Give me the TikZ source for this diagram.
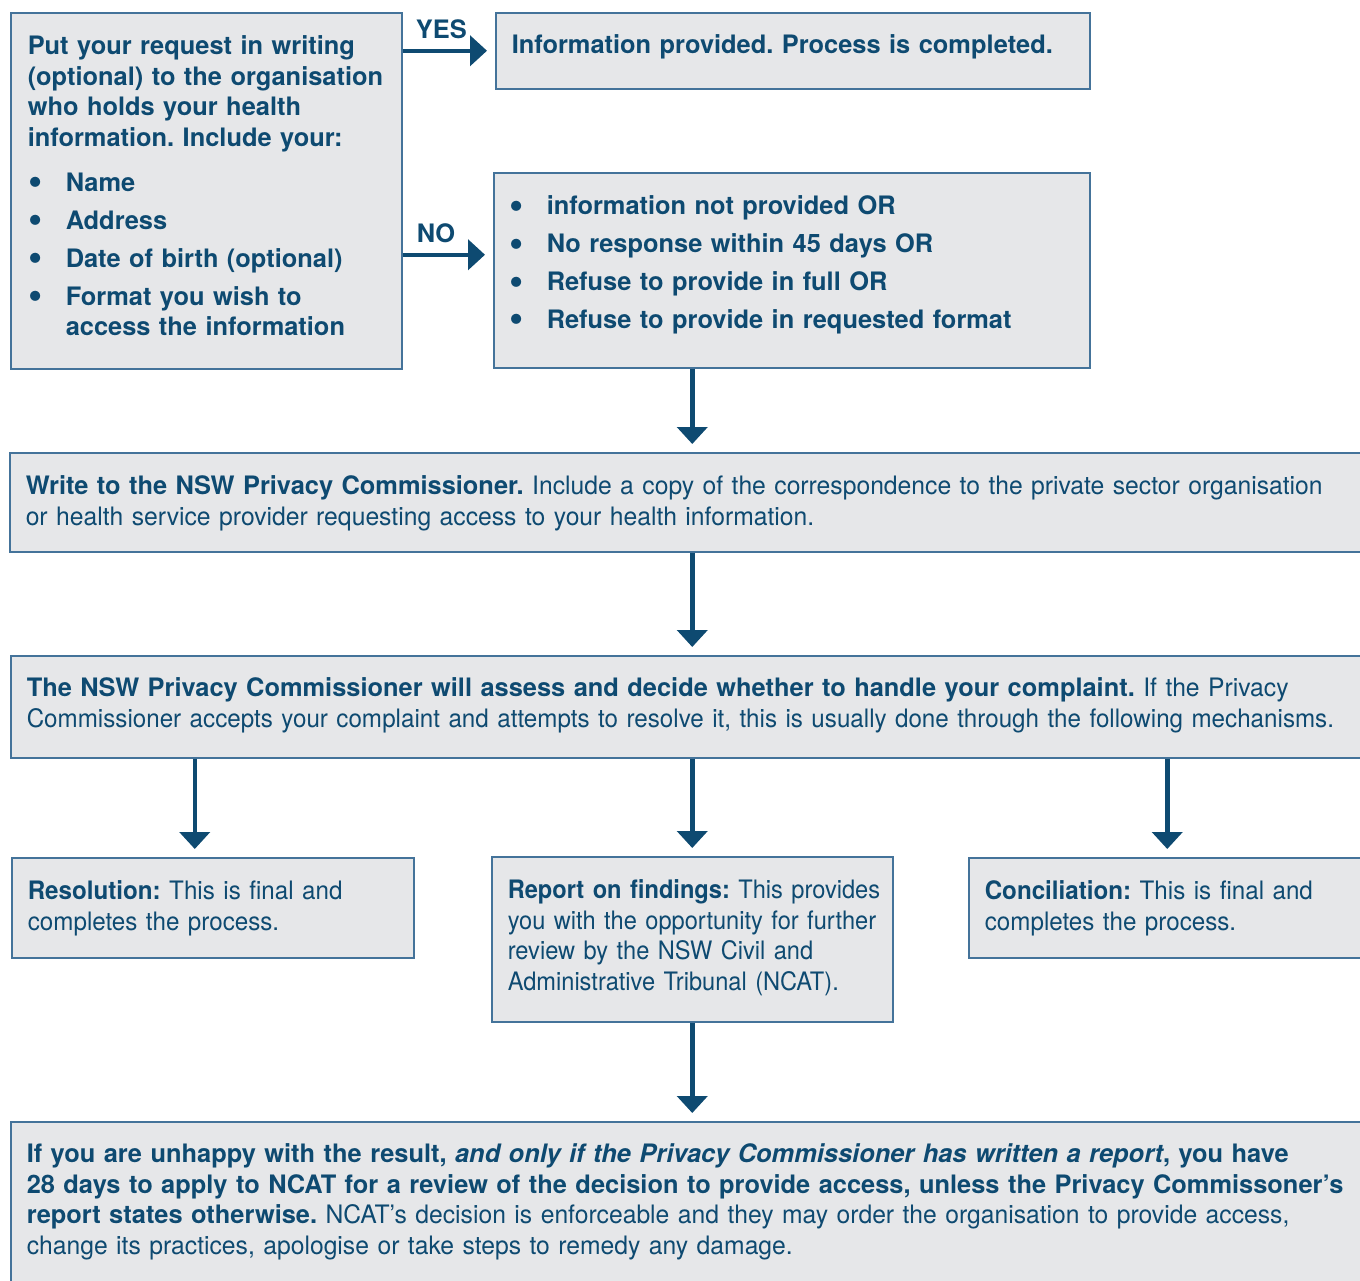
\documentclass[tikz,border=0pt]{standalone}
\usepackage{fontspec}
\setmainfont{TeX Gyre Heros}[UprightFeatures={FakeStretch=0.972}]
\newfontfamily\tightfont{TeX Gyre Heros}[FakeStretch=0.952]
\newfontfamily\tighterfont{TeX Gyre Heros}[FakeStretch=0.93]
\usetikzlibrary{arrows.meta}
\frenchspacing
\hyphenpenalty=10000

\definecolor{nswblue}{HTML}{0E4A71}
\definecolor{boxfill}{HTML}{E6E7E9}
\definecolor{boxline}{HTML}{44739A}

% bullet line with hanging indent
\newcommand{\bitem}[1]{\hangindent=38bp\hangafter=1\noindent\hspace*{1bp}\makebox[37bp][l]{\raisebox{-3.5bp}{\scalebox{1.6}{\textbullet}}}#1\par}
% lines may run a little past the text width instead of wrapping
\newcommand{\nowrap}{\rightskip=-40bp plus 1fil\relax}

\begin{document}
\begin{tikzpicture}[x=1bp, y=-1bp,
  box/.style={draw=boxline, line width=1.5bp, fill=boxfill, anchor=north west,
    inner xsep=16bp, inner ysep=0pt, text height=42bp, align=left, text=nswblue,
    font=\fontsize{25.5}{30.7}\selectfont, execute at begin node=\nowrap},
  tight/.style={font=\fontsize{25.5}{30.7}\selectfont\tightfont},
  tighter/.style={font=\fontsize{25.5}{30.7}\selectfont\tighterfont},
  arr/.style={draw=nswblue, line width=4.5bp, -{Triangle[width=30bp,length=17bp]}, shorten >=8bp},
  lbl/.style={above, text=nswblue, inner sep=10bp, font=\fontsize{25.5}{30}\selectfont\bfseries}]
  \fill[white] (0,0) rectangle (1360,1280);
  \useasboundingbox (0,0) rectangle (1360,1280);

  % first step and the two outcomes
  \node[box, text width=357bp, inner xsep=17bp, text depth=314bp] (req) at (10,12)
    {\bfseries\setlength{\parskip}{7.3bp}Put your request in writing\\ (optional) to the organisation\\ who holds your health\\ information. Include your:\par\vspace{7bp}%
     \bitem{Name}\bitem{Address}\bitem{Date of birth (optional)}\bitem{Format you wish to\newline access the information}};
  \node[box, text width=562bp, text height=41bp, text depth=35bp] (yes) at (495,12)
    {\bfseries Information provided. Process is completed.};
  \node[box, text width=566bp, inner xsep=15bp, text depth=153bp] (no) at (493,172)
    {\bfseries\setlength{\parskip}{7.3bp}\bitem{information not provided OR}\bitem{No response within 45 days OR}\bitem{Refuse to provide in full OR}\bitem{Refuse to provide in requested format}};

  % commissioner
  \node[box, text width=1324bp, text depth=57bp] (write) at (9,452)
    {\textbf{Write to the NSW Privacy Commissioner.} Include a copy of the correspondence to the private sector organisation\\ or health service provider requesting access to your health information.};
  \node[box, text width=1323bp, text height=41bp, text depth=61bp] (assess) at (10,655)
    {\textbf{The NSW Privacy Commissioner will assess and decide whether to handle your complaint.} If the Privacy\\ {\tightfont Commissioner accepts your complaint and attempts to resolve it, this is usually done through the following mechanisms.}};

  % mechanisms
  \node[box, tight, text width=370bp, text depth=58bp] (resol) at (11,857)
    {\textbf{Resolution:} This is final and\\ completes the process.};
  \node[box, tighter, text width=369bp, text depth=123bp] (report) at (491,856)
    {\textbf{Report on findings:} This provides\\ you with the opportunity for further\\ review by the NSW Civil and\\ Administrative Tribunal (NCAT).};
  \node[box, tight, text width=365bp, text depth=58bp] (concil) at (968,857)
    {\textbf{Conciliation:} This is final and\\ completes the process.};

  % review by NCAT
  \node[box, text width=1323bp, text height=41bp, text depth=140bp] (unhappy) at (10,1121)
    {\textbf{If you are unhappy with the result, \textit{and only if the Privacy Commissioner has written a report}, you have\\ 28 days to apply to NCAT for a review of the decision to provide access, unless the Privacy Commissoner’s\\ report states otherwise.} NCAT’s decision is enforceable and they may order the organisation to provide access,\\ change its practices, apologise or take steps to remedy any damage.};

  % arrows
  \coordinate (noin) at ([yshift=15.5bp]no.west);
  \coordinate (resolin) at ([xshift=-18bp]resol.north);
  \draw[arr] (req.east |- yes.west) -- node[lbl, pos=0.42] {YES} (yes.west);
  \draw[arr] (req.east |- noin) -- node[lbl, pos=0.37] {NO} (noin);
  \draw[arr] (no.south -| report.north) -- (write.north -| report.north);
  \draw[arr] (write.south -| report.north) -- (assess.north -| report.north);
  \draw[arr] (assess.south -| resolin) -- (resolin);
  \draw[arr] (assess.south -| report.north) -- (report.north);
  \draw[arr] (assess.south -| concil.north) -- (concil.north);
  \draw[arr] (report.south) -- (unhappy.north -| report.south);
\end{tikzpicture}
\end{document}
